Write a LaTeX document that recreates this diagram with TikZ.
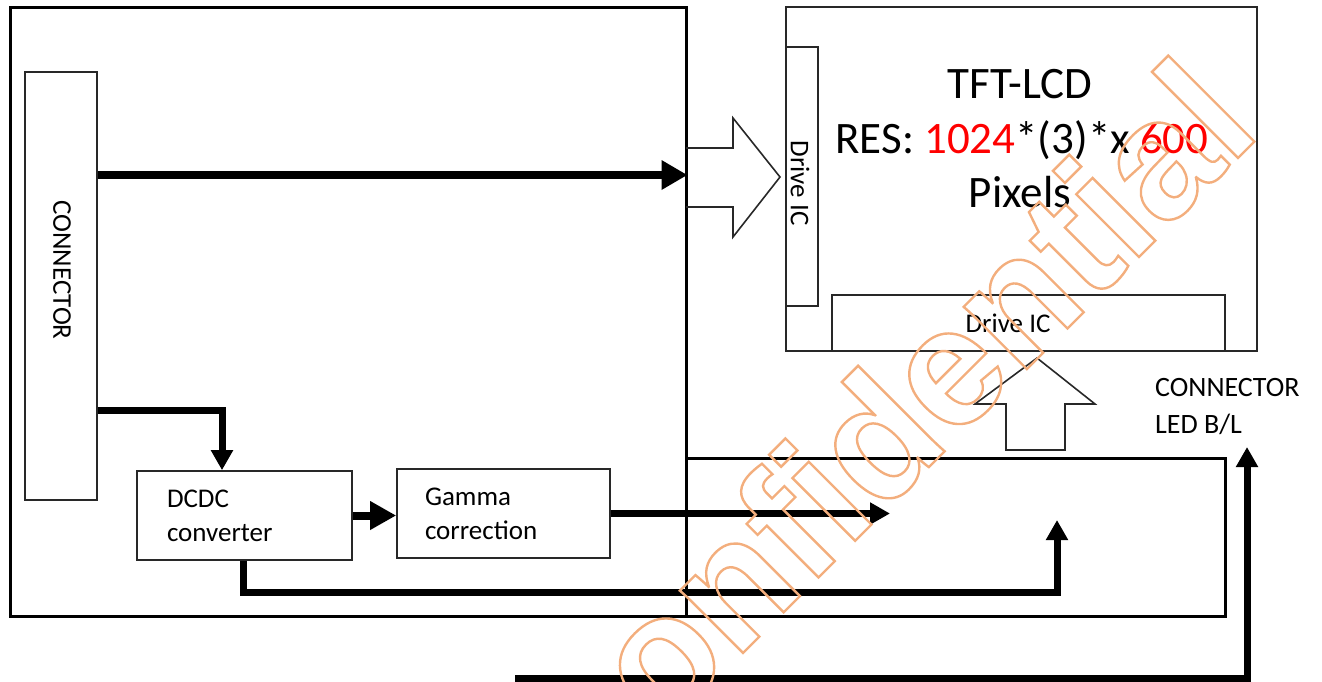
\documentclass[tikz,border=0pt]{standalone}
\usepackage{fontspec}
\setmainfont{Carlito}
\newfontfamily\wmfamily{Liberation Sans}
\usetikzlibrary{arrows.meta}
\definecolor{wm}{RGB}{243,174,125}
\definecolor{thinline}{RGB}{40,40,40}
\newcommand\strokedtext[1]{\special{pdf:literal direct 1 Tr 2.4 w}#1\special{pdf:literal direct 0 Tr}}
\begin{document}
\begin{tikzpicture}[x=1pt,y=-1pt,
  box/.style={draw=thinline, line width=1.6pt, inner sep=0pt},
  heavy/.style={draw=black, line width=3pt, inner sep=0pt},
  flow/.style={line width=7pt, line join=miter, -{Triangle[length=20pt,width=21pt]}},
  txt/.style={font=\fontsize{27}{34}\selectfont, inner sep=0pt},
  big/.style={font=\fontsize{45}{50}\selectfont, inner sep=0pt},
  hollow/.style={draw=thinline, line width=1.6pt, line join=miter}]
\useasboundingbox (0,0) rectangle (1322,681);
% boxes
\node[heavy, minimum width=676pt, minimum height=609pt] (main) at (348,311.5) {};
\node[heavy, minimum width=539pt, minimum height=158pt] (rbox) at (955.5,537) {};
\node[box, minimum width=72pt, minimum height=428pt] (conn) at (61,286) {};
\node[txt, rotate=-90] (connlbl) at (62,270) {CONNECTOR};
\node[box, txt, inner xsep=30pt, text width=155pt, align=left, minimum width=215pt, minimum height=89pt] (dcdc) at (244.5,515.5) {DCDC\\converter};
\node[box, txt, inner xsep=28pt, text width=157pt, align=left, minimum width=213pt, minimum height=89pt] (gamma) at (503.5,513.5) {Gamma\\correction};
\node[box, minimum width=471pt, minimum height=344pt] (tft) at (1021.5,179) {};
\node[box, minimum width=32pt, minimum height=259pt] (dicv) at (802,176.5) {};
\node[txt, rotate=-90] (dicvlbl) at (800,183) {Drive IC};
\node[box, minimum width=393pt, minimum height=56pt] (dich) at (1028.5,323) {};
\node[txt] (dichlbl) at (1008,323) {Drive IC};
\node[big, anchor=base] (title) at (1020,98) {TFT-LCD};
\node[big, anchor=base] (res) at (1022,153) {RES: \textcolor{red}{1024}*(3)*x \textcolor{red}{600}};
\node[big, anchor=base] (pix) at (1020,207) {Pixels};
\node[txt, font=\fontsize{28}{37}\selectfont, align=left, anchor=west] (ledlbl) at (1155,407) {CONNECTOR\\LED B/L};
% helper coordinates
\coordinate (yA) at (0,175);
\coordinate (yB) at (0,410);
\coordinate (xA) at (222,0);
\coordinate (gout) at (890,513.5);
\coordinate (b1) at (243,592);
\coordinate (b2) at (1057,520);
\coordinate (c1) at (515,678);
\coordinate (c2) at (1247,447);
% connectors
\draw[flow, line width=8pt, -{Triangle[length=26pt,width=28pt]}] (conn.east |- yA) -- (main.east |- yA);
\draw[flow] (conn.east |- yB) -| (dcdc.north -| xA);
\draw[flow, line width=8pt, -{Triangle[length=26pt,width=27pt]}] (dcdc.east) -- (gamma.west |- dcdc.east);
\draw[flow] (gamma.east) -- (gout);
\draw[flow] (dcdc.south -| b1) |- (b2 |- b1) -- (b2);
\draw[flow] (c1) -| (c2);
% hollow block arrows
\draw[hollow] (686,148) -- (733,148) -- (733,118) -- (780,177) -- (733,237) -- (733,207) -- (686,207);
\draw[hollow] (1006,450) -- (1006,404) -- (975,404) -- (1037,358) -- (1095,404) -- (1065,404) -- (1065,450) -- cycle;
% watermark
\begin{scope}
\clip (0,0) rectangle (1322,681);
\node[anchor=base west, rotate=45, inner sep=0pt, text=wm, font=\wmfamily\bfseries\fontsize{168}{168}\selectfont] (wmark) at (596,800) {\strokedtext{confidential}};
\end{scope}
\end{tikzpicture}
\end{document}
